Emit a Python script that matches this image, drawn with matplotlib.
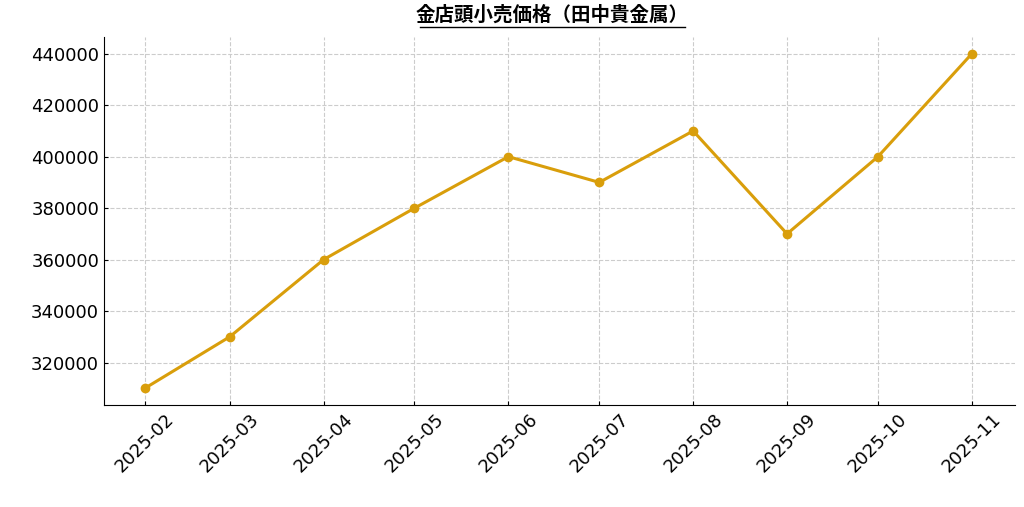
import matplotlib
matplotlib.use("Agg")
import matplotlib.pyplot as plt
import matplotlib.dates as mdates
from matplotlib.lines import Line2D
import pandas as pd

plt.rcParams['font.family'] = ['DejaVu Sans', 'Noto Sans CJK JP']

months = ["2025-02", "2025-03", "2025-04", "2025-05", "2025-06",
          "2025-07", "2025-08", "2025-09", "2025-10", "2025-11"]
prices = [310000, 330000, 360000, 380000, 400000,
          390000, 410000, 370000, 400000, 440000]
title = "金店頭小売価格（田中貴金属）"

dates = pd.to_datetime(months)

fig = plt.figure(figsize=(10.24, 5.07), dpi=100)
ax = fig.add_axes([104 / 1024, 1 - 405 / 507, 911 / 1024, 368 / 507])

ax.plot(dates, prices, color="#D99E0B", linewidth=2.2, marker="o", markersize=6)

ax.set_xticks(dates)
ax.xaxis.set_major_formatter(mdates.DateFormatter("%Y-%m"))
ax.set_xlim(pd.Timestamp("2025-01-18 12:00"), pd.Timestamp("2025-11-15 06:00"))
ax.set_ylim(303500, 446500)
ax.set_yticks(range(320000, 440001, 20000))
ax.tick_params(axis="both", labelsize=13, direction="in", length=3)
plt.setp(ax.get_xticklabels(), rotation=45, ha="center")
ax.grid(True, linestyle="--", color="#cccccc", linewidth=0.8)
ax.spines["top"].set_visible(False)
ax.spines["right"].set_visible(False)

fig.text(552 / 1024, 1 - 15 / 507, title, ha="center", va="center",
         fontsize=14, fontweight="bold", family=['Noto Sans CJK JP', 'DejaVu Sans'])
fig.add_artist(Line2D([420 / 1024, 685 / 1024], [1 - 27 / 507, 1 - 27 / 507],
                      color="black", linewidth=1))

fig.savefig("out.png", dpi=100)
